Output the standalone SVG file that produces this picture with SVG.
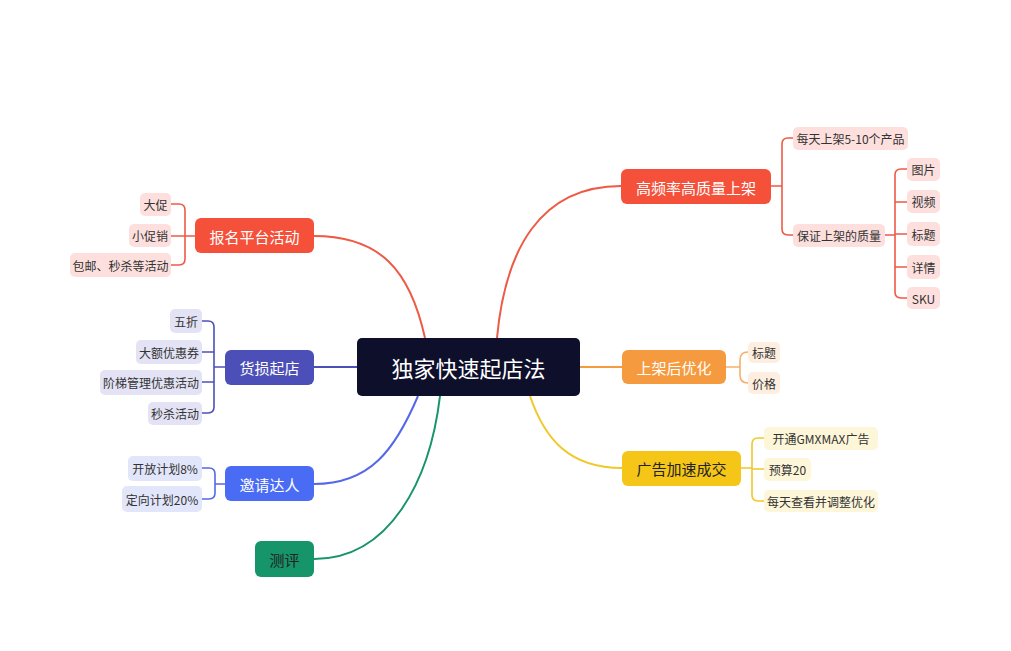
<svg xmlns="http://www.w3.org/2000/svg" width="1011" height="651" viewBox="0 0 1011 651">
<style>
text{font-family:"Noto Sans CJK SC","Liberation Sans",sans-serif;text-anchor:middle;dominant-baseline:central}
.m{font-size:15px;fill:#fff}
.l{font-size:12px;fill:#333}
.c{fill:none;stroke-width:2}
.b{fill:none;stroke-width:1.6}
</style>
<rect width="1011" height="651" fill="#fff"/>
<g id="connectors">
<path class="c" stroke="#ee5a45" d="M497,338 C505,250 540,186 621,186"/>
<path class="c" stroke="#f59a3e" d="M580,367 L622,367"/>
<path class="c" stroke="#f0c82a" d="M530,396 C545,440 570,468 622,468"/>
<path class="c" stroke="#ee5a45" d="M425,338 C410,270 380,236 314,236"/>
<path class="c" stroke="#4d4fb8" d="M357,367 L314,367"/>
<path class="c" stroke="#5468e8" d="M418,396 C395,450 370,484 314,484"/>
<path class="c" stroke="#16946a" d="M440,396 C430,480 390,559 314,559"/>
<path class="b" stroke="#ee5a45" d="M771,186 H782 M793,138 H788 Q782,138 782,144 V229 Q782,235 788,235 H793"/>
<path class="b" stroke="#ee5a45" d="M885,235 H895 M907,169 H901 Q895,169 895,175 V292 Q895,298 901,298 H907 M895,202 H907 M895,234 H907 M895,267 H907"/>
<path class="b" stroke="#f5b06a" d="M726,367 H740 M748,352 Q740,352 740,360 V375 Q740,383 748,383"/>
<path class="b" stroke="#f0c82a" d="M741,468 H752 M764,438 H758 Q752,438 752,444 V495 Q752,501 758,501 H764 M752,469 H764"/>
<path class="b" stroke="#ee5a45" d="M195,236 H185 M171,204 H179 Q185,204 185,210 V259 Q185,265 179,265 H171 M185,236 H171"/>
<path class="b" stroke="#4d4fb8" d="M225,367 H214 M202,321 H208 Q214,321 214,327 V407 Q214,413 208,413 H202 M214,352 H202 M214,382 H202"/>
<path class="b" stroke="#5468e8" d="M225,484 H215 M202,468 H209 Q215,468 215,474 V493 Q215,499 209,499 H202"/>
</g>
<g id="center"><rect x="357" y="338" width="223" height="58" rx="5" fill="#0d0f2b"/><text x="468.5" y="367" font-size="22" fill="#fff">独家快速起店法</text></g>
<g id="n1"><rect x="621" y="169" width="150" height="35" rx="6" fill="#f4503a"/><text class="m" x="696" y="187">高频率高质量上架</text></g>
<g id="n2"><rect x="622" y="350" width="104" height="34" rx="6" fill="#f59a3e"/><text class="m" x="674" y="367">上架后优化</text></g>
<g id="n3"><rect x="622" y="451" width="119" height="35" rx="6" fill="#f5c518"/><text class="m" x="681.5" y="468.5" style="fill:#222">广告加速成交</text></g>
<g id="n4"><rect x="195" y="218" width="119" height="35" rx="6" fill="#f4503a"/><text class="m" x="254.5" y="236">报名平台活动</text></g>
<g id="n5"><rect x="225" y="350" width="89" height="35" rx="6" fill="#4d4fb8"/><text class="m" x="269.5" y="367.5">货损起店</text></g>
<g id="n6"><rect x="225" y="466" width="89" height="35" rx="6" fill="#4a6cf5"/><text class="m" x="269.5" y="484">邀请达人</text></g>
<g id="n7"><rect x="255" y="541" width="59" height="36" rx="6" fill="#16946a"/><text class="m" x="284.5" y="559" style="fill:#222">测评</text></g>
<g id="l1"><rect x="793" y="127" width="115" height="23" rx="5" fill="#fde0de"/><text class="l" x="850.5" y="138.5">每天上架5-10个产品</text></g>
<g id="l2"><rect x="793" y="224" width="92" height="23" rx="5" fill="#fde0de"/><text class="l" x="839" y="235.5">保证上架的质量</text></g>
<g id="l3"><rect x="907" y="158" width="33" height="23" rx="5" fill="#fde0de"/><text class="l" x="923.5" y="169.5">图片</text></g>
<g id="l4"><rect x="907" y="190" width="33" height="23" rx="5" fill="#fde0de"/><text class="l" x="923.5" y="201.5">视频</text></g>
<g id="l5"><rect x="907" y="222" width="33" height="24" rx="5" fill="#fde0de"/><text class="l" x="923.5" y="234">标题</text></g>
<g id="l6"><rect x="907" y="255" width="33" height="24" rx="5" fill="#fde0de"/><text class="l" x="923.5" y="267">详情</text></g>
<g id="l7"><rect x="907" y="287" width="33" height="22" rx="5" fill="#fde0de"/><text class="l" x="923.5" y="298">SKU</text></g>
<g id="l8"><rect x="748" y="342" width="32" height="21" rx="5" fill="#fdeee0"/><text class="l" x="764" y="352.5">标题</text></g>
<g id="l9"><rect x="748" y="372" width="32" height="22" rx="5" fill="#fdeee0"/><text class="l" x="764" y="383">价格</text></g>
<g id="l10"><rect x="764" y="427" width="114" height="23" rx="5" fill="#fdf6d8"/><text class="l" x="821" y="438.5">开通GMXMAX广告</text></g>
<g id="l11"><rect x="764" y="458" width="47" height="23" rx="5" fill="#fdf6d8"/><text class="l" x="787.5" y="469.5">预算20</text></g>
<g id="l12"><rect x="764" y="490" width="114" height="22" rx="5" fill="#fdf6d8"/><text class="l" x="821" y="501">每天查看并调整优化</text></g>
<g id="l13"><rect x="140" y="193" width="31" height="23" rx="5" fill="#fde0de"/><text class="l" x="155.5" y="204.5">大促</text></g>
<g id="l14"><rect x="129" y="224" width="42" height="23" rx="5" fill="#fde0de"/><text class="l" x="150" y="235.5">小促销</text></g>
<g id="l15"><rect x="70" y="253" width="101" height="24" rx="5" fill="#fde0de"/><text class="l" x="120.5" y="265">包邮、秒杀等活动</text></g>
<g id="l16"><rect x="170" y="309" width="32" height="24" rx="5" fill="#e3e3f5"/><text class="l" x="186" y="321">五折</text></g>
<g id="l17"><rect x="136" y="340" width="66" height="24" rx="5" fill="#e3e3f5"/><text class="l" x="169" y="352">大额优惠券</text></g>
<g id="l18"><rect x="100" y="370" width="102" height="25" rx="5" fill="#e3e3f5"/><text class="l" x="151" y="382.5">阶梯管理优惠活动</text></g>
<g id="l19"><rect x="148" y="402" width="54" height="23" rx="5" fill="#e3e3f5"/><text class="l" x="175" y="413.5">秒杀活动</text></g>
<g id="l20"><rect x="128" y="456" width="74" height="25" rx="5" fill="#e2e6fb"/><text class="l" x="165" y="468.5">开放计划8%</text></g>
<g id="l21"><rect x="122" y="486" width="80" height="26" rx="5" fill="#e2e6fb"/><text class="l" x="162" y="499">定向计划20%</text></g>
</svg>
